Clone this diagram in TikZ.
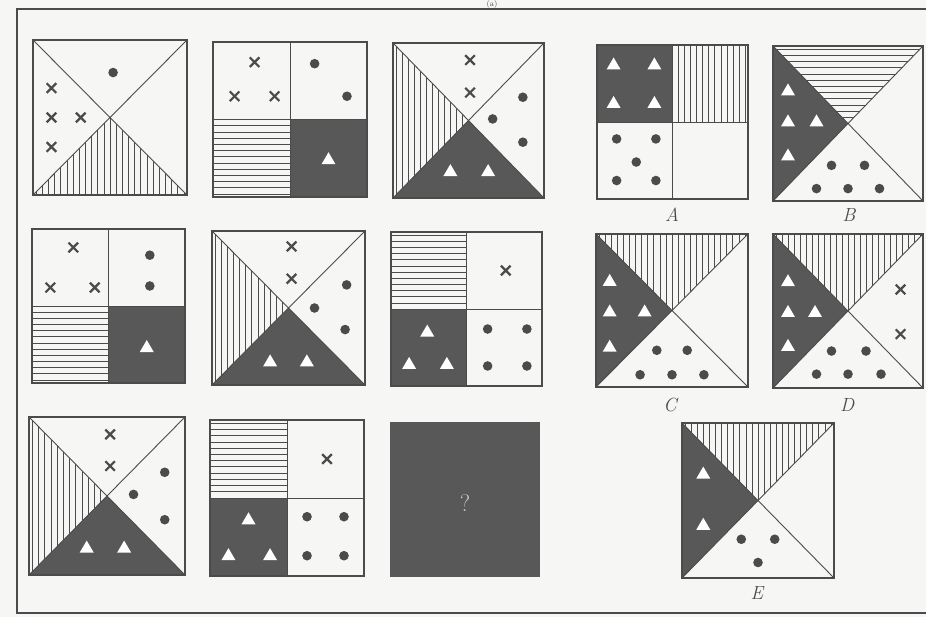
\documentclass[tikz,border=0pt]{standalone}
\usepackage{xcolor}
\definecolor{ink}{HTML}{4B4B4B}
\definecolor{panel}{HTML}{585858}
\definecolor{paper}{HTML}{F6F6F4}

% regions of a square in its own unit coordinates (y runs down)
\def\Ttop{(0,0) -- (1,0) -- (.5,.5) -- cycle}
\def\Tleft{(0,0) -- (0,1) -- (.5,.5) -- cycle}
\def\Tbot{(0,1) -- (1,1) -- (.5,.5) -- cycle}
\newcommand{\vhatch}[1]{\begin{scope}\clip #1; \foreach \h in {0.02,0.06,...,0.99} {\draw[hatch] (\h,0) -- (\h,1);}\end{scope}}
\newcommand{\hhatch}[1]{\begin{scope}\clip #1; \foreach \h in {0.02,0.06,...,0.99} {\draw[hatch] (0,\h) -- (1,\h);}\end{scope}}
\newcommand{\diagbox}{\draw[box] (0,0) rectangle (1,1); \draw[rule] (0,0) -- (1,1) (1,0) -- (0,1);}
\newcommand{\quadbox}{\draw[box] (0,0) rectangle (1,1); \draw[rule] (.5,0) -- (.5,1) (0,.5) -- (1,.5);}
\newcommand{\pcross}[1]{\draw[crs] (#1) ++(-4.8pt,-4.8pt) -- ++(9.6pt,9.6pt) (#1) ++(-4.8pt,4.8pt) -- ++(9.6pt,-9.6pt);}
\newcommand{\pdot}[1]{\fill[ink] (#1) circle[radius=4.8pt];}
\newcommand{\ptri}[1]{\fill[white] (#1) ++(0pt,6pt) -- ++(-7pt,-12pt) -- ++(14pt,0pt) -- cycle;}

\begin{document}
\begin{tikzpicture}[x=1pt, y=-1pt,
  box/.style={draw=ink, line width=1.2pt},
  rule/.style={draw=ink, line width=0.9pt},
  hatch/.style={draw=ink, line width=0.6pt},
  crs/.style={draw=ink, line width=2.2pt},
  lbl/.style={font=\fontsize{19}{22}\selectfont\itshape, text=ink, inner sep=0pt},
  qmark/.style={font=\fontsize{24}{28}\selectfont, text=black!22, inner sep=0pt}]
  \fill[paper] (0,0) rectangle (926,617);
  \useasboundingbox (0,0) rectangle (926,617);
  % outer frame and caption
  \draw[ink, line width=1.3pt] (17,9) rectangle (940,613);
  \node[font=\fontsize{8}{9}\selectfont, text=ink, inner sep=0pt, anchor=north] (cap) at (492,0.5) {(a)};

  % row 1
  \begin{scope}[shift={(33,40)}, x=154pt, y=-155pt]
    \vhatch{\Tbot}
    \diagbox
    \pdot{0.52,0.21}
    \foreach \x/\y in {0.12/0.31, 0.12/0.50, 0.31/0.50, 0.12/0.69} {\pcross{\x,\y}}
  \end{scope}
  \begin{scope}[shift={(213,42)}, x=154pt, y=-155pt]
    \fill[panel] (.5,.5) rectangle (1,1);
    \hhatch{(0,.5) rectangle (.5,1)}
    \quadbox
    \foreach \x/\y in {0.27/0.13, 0.14/0.35, 0.40/0.35} {\pcross{\x,\y}}
    \foreach \x/\y in {0.66/0.14, 0.87/0.35} {\pdot{\x,\y}}
    \ptri{0.75,0.75}
  \end{scope}
  \begin{scope}[shift={(393,43)}, x=151pt, y=-155pt]
    \fill[panel] \Tbot;
    \vhatch{\Tleft}
    \diagbox
    \foreach \x/\y in {0.51/0.11, 0.51/0.32} {\pcross{\x,\y}}
    \foreach \x/\y in {0.86/0.35, 0.66/0.49, 0.86/0.64} {\pdot{\x,\y}}
    \foreach \x/\y in {0.38/0.82, 0.63/0.82} {\ptri{\x,\y}}
  \end{scope}

  % row 2
  \begin{scope}[shift={(32,229)}, x=153pt, y=-154pt]
    \fill[panel] (.5,.5) rectangle (1,1);
    \hhatch{(0,.5) rectangle (.5,1)}
    \quadbox
    \foreach \x/\y in {0.27/0.12, 0.12/0.38, 0.41/0.38} {\pcross{\x,\y}}
    \foreach \x/\y in {0.77/0.17, 0.77/0.37} {\pdot{\x,\y}}
    \ptri{0.75,0.76}
  \end{scope}
  \begin{scope}[shift={(212,231)}, x=153pt, y=-154pt]
    \fill[panel] \Tbot;
    \vhatch{\Tleft}
    \diagbox
    \foreach \x/\y in {0.52/0.10, 0.52/0.31} {\pcross{\x,\y}}
    \foreach \x/\y in {0.88/0.35, 0.67/0.50, 0.87/0.64} {\pdot{\x,\y}}
    \foreach \x/\y in {0.38/0.84, 0.62/0.84} {\ptri{\x,\y}}
  \end{scope}
  \begin{scope}[shift={(391,232)}, x=151pt, y=-154pt]
    \fill[panel] (0,.5) rectangle (.5,1);
    \hhatch{(0,0) rectangle (.5,.5)}
    \quadbox
    \pcross{0.76,0.25}
    \foreach \x/\y in {0.24/0.64, 0.12/0.85, 0.37/0.85} {\ptri{\x,\y}}
    \foreach \x/\y in {0.64/0.63, 0.90/0.63, 0.64/0.87, 0.90/0.87} {\pdot{\x,\y}}
  \end{scope}

  % row 3
  \begin{scope}[shift={(29,417)}, x=156pt, y=-158pt]
    \fill[panel] \Tbot;
    \vhatch{\Tleft}
    \diagbox
    \foreach \x/\y in {0.52/0.11, 0.52/0.31} {\pcross{\x,\y}}
    \foreach \x/\y in {0.87/0.35, 0.67/0.49, 0.87/0.65} {\pdot{\x,\y}}
    \foreach \x/\y in {0.37/0.82, 0.61/0.82} {\ptri{\x,\y}}
  \end{scope}
  \begin{scope}[shift={(210,420)}, x=154pt, y=-156pt]
    \fill[panel] (0,.5) rectangle (.5,1);
    \hhatch{(0,0) rectangle (.5,.5)}
    \quadbox
    \pcross{0.76,0.25}
    \foreach \x/\y in {0.25/0.63, 0.12/0.86, 0.39/0.86} {\ptri{\x,\y}}
    \foreach \x/\y in {0.63/0.62, 0.87/0.62, 0.63/0.87, 0.87/0.87} {\pdot{\x,\y}}
  \end{scope}
  \begin{scope}[shift={(390,422)}, x=150pt, y=-155pt]
    \fill[panel] (0,0) rectangle (1,1);
    \node[qmark] (ask) at (.5,.52) {?};
  \end{scope}

  % answer figures
  \begin{scope}[shift={(597,45)}, x=151pt, y=-154pt]
    \fill[panel] (0,0) rectangle (.5,.5);
    \vhatch{(.5,0) rectangle (1,.5)}
    \quadbox
    \foreach \x/\y in {0.11/0.12, 0.38/0.12, 0.11/0.37, 0.38/0.37} {\ptri{\x,\y}}
    \foreach \x/\y in {0.13/0.61, 0.39/0.61, 0.26/0.76, 0.13/0.88, 0.39/0.88} {\pdot{\x,\y}}
  \end{scope}
  \begin{scope}[shift={(773,46)}, x=150pt, y=-155pt]
    \fill[panel] \Tleft;
    \hhatch{\Ttop}
    \diagbox
    \foreach \x/\y in {0.10/0.28, 0.10/0.48, 0.29/0.48, 0.10/0.70} {\ptri{\x,\y}}
    \foreach \x/\y in {0.39/0.77, 0.61/0.77, 0.29/0.92, 0.50/0.92, 0.71/0.92} {\pdot{\x,\y}}
  \end{scope}
  \begin{scope}[shift={(596,234)}, x=152pt, y=-153pt]
    \fill[panel] \Tleft;
    \vhatch{\Ttop}
    \diagbox
    \foreach \x/\y in {0.09/0.30, 0.09/0.50, 0.32/0.50, 0.09/0.73} {\ptri{\x,\y}}
    \foreach \x/\y in {0.40/0.76, 0.60/0.76, 0.29/0.92, 0.50/0.92, 0.71/0.92} {\pdot{\x,\y}}
  \end{scope}
  \begin{scope}[shift={(773,234)}, x=150pt, y=-154pt]
    \fill[panel] \Tleft;
    \vhatch{\Ttop}
    \diagbox
    \foreach \x/\y in {0.10/0.30, 0.10/0.50, 0.28/0.50, 0.10/0.72} {\ptri{\x,\y}}
    \foreach \x/\y in {0.85/0.36, 0.85/0.65} {\pcross{\x,\y}}
    \foreach \x/\y in {0.39/0.76, 0.62/0.76, 0.29/0.91, 0.50/0.91, 0.72/0.91} {\pdot{\x,\y}}
  \end{scope}
  \begin{scope}[shift={(682,423)}, x=152pt, y=-155pt]
    \fill[panel] \Tleft;
    \vhatch{\Ttop}
    \diagbox
    \foreach \x/\y in {0.14/0.32, 0.14/0.65} {\ptri{\x,\y}}
    \foreach \x/\y in {0.39/0.75, 0.61/0.75, 0.50/0.90} {\pdot{\x,\y}}
  \end{scope}

  % option letters
  \node[lbl] (optA) at (672,215) {A};
  \node[lbl] (optB) at (849,215) {B};
  \node[lbl] (optC) at (670,405) {C};
  \node[lbl] (optD) at (847,405) {D};
  \node[lbl] (optE) at (757,593) {E};
\end{tikzpicture}
\end{document}
